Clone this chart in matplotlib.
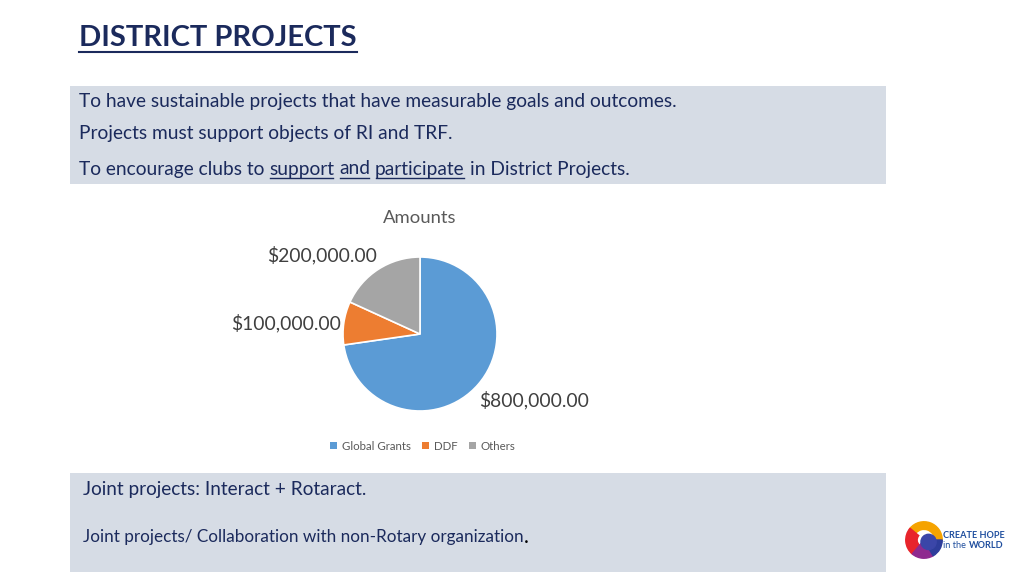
import matplotlib.pyplot as plt
from matplotlib.patches import Rectangle, Wedge, Circle

plt.rcParams['font.family'] = ['Lato', 'DejaVu Sans']

W, H = 1024, 576

# data
categories = ['Global Grants', 'DDF', 'Others']
amounts = [800000, 100000, 200000]
colors = ['#5B9BD5', '#ED7D31', '#A5A5A5']
# label anchor points (pixels) as Excel placed them
label_pos = [(534, 400), (286, 323), (322, 255)]

title = 'DISTRICT PROJECTS'
top_lines = ['To have sustainable projects that have measurable goals and outcomes.',
             'Projects must support objects of RI and TRF.']
bottom_lines = ['Joint projects: Interact + Rotaract.',
                'Joint projects/ Collaboration with non-Rotary organization']

navy = '#1B2A5C'
box_fill = '#D6DCE5'
fs = 13.8

fig = plt.figure(figsize=(W / 100, H / 100), dpi=100)


def px(x, y):
    return x / W, 1 - y / H


def box(x0, y0, x1, y1):
    fig.patches.append(Rectangle(px(x0, y1), (x1 - x0) / W, (y1 - y0) / H,
                                 transform=fig.transFigure, facecolor=box_fill,
                                 edgecolor='none', zorder=0))


renderer = fig.canvas.get_renderer()


def underline(t, ypix, lw=1.2, trim=0):
    bb = t.get_window_extent(renderer)
    fig.add_artist(plt.Line2D([(bb.x0 + trim) / W, (bb.x1 - trim) / W], [1 - ypix / H] * 2,
                              transform=fig.transFigure, color=navy, lw=lw))


# title
t = fig.text(*px(79, 38), title, fontsize=21, fontweight='bold', color=navy,
             va='center', ha='left')
underline(t, 52, lw=1.5)

# top box
box(70, 86, 886, 184)
fig.text(*px(79, 102), top_lines[0], fontsize=fs, color=navy, va='center')
fig.text(*px(79, 134), top_lines[1], fontsize=fs, color=navy, va='center')

# third line with underlined words
pieces = [('To encourage clubs to', False), ('support', True), ('and', True),
          ('participate', True), ('in District Projects.', False)]
a = fig.text(0, 0, 'a b', fontsize=fs)
b = fig.text(0, 0, 'ab', fontsize=fs)
space = a.get_window_extent(renderer).width - b.get_window_extent(renderer).width
a.remove()
b.remove()
x = 79
for word, ul in pieces:
    tt = fig.text(*px(x, 169), word, fontsize=fs, color=navy, va='center')
    bb = tt.get_window_extent(renderer)
    if ul:
        underline(tt, 178, lw=1.0, trim=1)
    x = bb.x1 + space

# bottom box
box(70, 473, 886, 572)
fig.text(*px(83, 489), bottom_lines[0], fontsize=13.7, color=navy, va='center')
t2 = fig.text(*px(83, 537), bottom_lines[1], fontsize=12.3, color=navy, va='center')
bb = t2.get_window_extent(renderer)
fig.text(bb.x1 / W, 1 - 537 / H, '.', fontsize=15, color='black', va='center')

# pie
cx, cy, r = 420, 334, 77
ax = fig.add_axes([(cx - r) / W, 1 - (cy + r) / H, 2 * r / W, 2 * r / H])
wedges, _ = ax.pie(amounts, colors=colors, startangle=90, counterclock=False,
                   wedgeprops=dict(edgecolor='white', linewidth=1.2))
ax.set_xlim(-1, 1)
ax.set_ylim(-1, 1)
ax.set_aspect('equal')
ax.axis('off')

fig.text(*px(420, 218), 'Amounts', fontsize=13.3, color='#595959', ha='center', va='center')
for val, (lx, ly) in zip(amounts, label_pos):
    fig.text(*px(lx, ly), f'${val:,.2f}', fontsize=13.9, color='#404040',
             ha='center', va='center')

# legend
handles = [Rectangle((0, 0), 1, 1, facecolor=c) for c in colors]
fig.legend(handles, categories, loc='center', bbox_to_anchor=px(423, 446),
           ncol=3, frameon=False, fontsize=8.3, labelcolor='#595959',
           handlelength=0.6, handleheight=0.6, handletextpad=0.4, columnspacing=1.0)

# logo
lax = fig.add_axes([905 / W, 1 - 561 / H, 38 / W, 42 / H])
lax.add_patch(Wedge((0.5, 0.5), 0.48, 0, 140, width=0.2, color='#F5A300'))
lax.add_patch(Wedge((0.5, 0.5), 0.48, 140, 230, width=0.3, color='#E8242B'))
lax.add_patch(Wedge((0.5, 0.5), 0.48, 230, 300, width=0.48, color='#8E2A8F'))
lax.add_patch(Wedge((0.5, 0.5), 0.48, 300, 360, width=0.48, color='#2E3D9B'))
lax.add_patch(Circle((0.62, 0.45), 0.2, color='#3B46A8'))
lax.set_xlim(0, 1)
lax.set_ylim(0, 1)
lax.set_aspect('equal')
lax.axis('off')
fig.text(*px(943, 535), 'CREATE HOPE', fontsize=6.6, fontweight='bold', color='#1F4E9E', va='center')
fig.text(*px(943, 545), 'in the', fontsize=6.6, color='#1F4E9E', va='center')
fig.text(*px(969, 545), 'WORLD', fontsize=6.6, fontweight='bold', color='#1F4E9E', va='center')

fig.savefig('out.png', dpi=100)
